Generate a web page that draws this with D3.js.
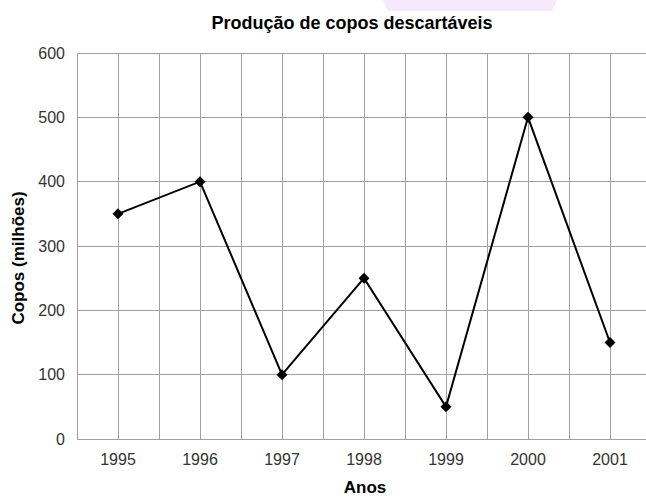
<!DOCTYPE html>
<html>
<head>
<meta charset="utf-8">
<script src="https://cdn.jsdelivr.net/npm/d3@7"></script>
<style>
  body { margin: 0; background: #fff; }
  svg { display: block; font-family: "Liberation Sans", Arial, sans-serif; }
</style>
</head>
<body>
<div id="chart"></div>
<script>
// data
var years = ["1995", "1996", "1997", "1998", "1999", "2000", "2001"];
var copos = [350, 400, 100, 250, 50, 500, 150];
var yTicks = [0, 100, 200, 300, 400, 500, 600];

var svgWidth = 646;
var svgHeight = 497;

// plot box (the right side runs past the picture edge, as in the original)
var plotLeft = 77, plotTop = 53, plotRight = 651, plotBottom = 439;

var svg = d3.select("#chart")
  .append("svg")
  .attr("width", svgWidth)
  .attr("height", svgHeight);

// faint lavender patch at the top edge
svg.append("path")
  .attr("d", "M383,0 L557,0 L552,11 L388,11 Z")
  .attr("fill", "#f7e9fb");

var x = d3.scaleBand()
  .domain(years)
  .range([plotLeft, plotRight]);

var y = d3.scaleLinear()
  .domain([0, 600])
  .range([plotBottom, plotTop]);

var grid = svg.append("g")
  .attr("stroke", "#a0a0a0")
  .attr("stroke-width", 1)
  .attr("shape-rendering", "crispEdges");

// horizontal grid
grid.selectAll(".hline")
  .data(yTicks)
  .enter()
  .append("line")
  .attr("x1", plotLeft)
  .attr("x2", plotRight)
  .attr("y1", d => y(d))
  .attr("y2", d => y(d));

// vertical grid: band edges and band centres
var vx = [];
years.forEach(function(d) {
  vx.push(x(d));
  vx.push(x(d) + x.bandwidth() / 2);
});
vx.push(plotRight);

grid.selectAll(".vline")
  .data(vx)
  .enter()
  .append("line")
  .attr("x1", d => d)
  .attr("x2", d => d)
  .attr("y1", plotTop)
  .attr("y2", plotBottom);

// axes
var leftAxis = d3.axisLeft(y).tickValues(yTicks).tickSize(0).tickPadding(12);
var bottomAxis = d3.axisBottom(x).tickSize(0).tickPadding(15);

var yAxis = svg.append("g")
  .attr("transform", `translate(${plotLeft}, 0)`)
  .call(leftAxis);

var xAxis = svg.append("g")
  .attr("transform", `translate(0, ${plotBottom})`)
  .call(bottomAxis);

[yAxis, xAxis].forEach(function(a) {
  a.select(".domain").remove();
  a.selectAll("text")
    .attr("font-size", 16)
    .attr("fill", "#333")
    .attr("font-family", "'Liberation Sans', Arial, sans-serif");
});

// line + diamond markers
var pts = years.map((d, i) => [x(d) + x.bandwidth() / 2, y(copos[i])]);

svg.append("path")
  .datum(pts)
  .attr("fill", "none")
  .attr("stroke", "#000")
  .attr("stroke-width", 2)
  .attr("d", d3.line());

svg.selectAll(".marker")
  .data(pts)
  .enter()
  .append("path")
  .attr("transform", d => `translate(${d[0]}, ${d[1]})`)
  .attr("d", "M0,-5.5 L5.5,0 L0,5.5 L-5.5,0 Z")
  .attr("fill", "#000");

// titles
svg.append("text")
  .attr("x", 352)
  .attr("y", 29)
  .attr("text-anchor", "middle")
  .attr("font-size", 18)
  .attr("font-weight", "bold")
  .text("Produção de copos descartáveis");

svg.append("text")
  .attr("x", 365)
  .attr("y", 493)
  .attr("text-anchor", "middle")
  .attr("font-size", 17)
  .attr("font-weight", "bold")
  .text("Anos");

svg.append("text")
  .attr("transform", "translate(24, 258) rotate(-90)")
  .attr("text-anchor", "middle")
  .attr("font-size", 17)
  .attr("font-weight", "bold")
  .text("Copos (milhões)");
</script>
</body>
</html>
